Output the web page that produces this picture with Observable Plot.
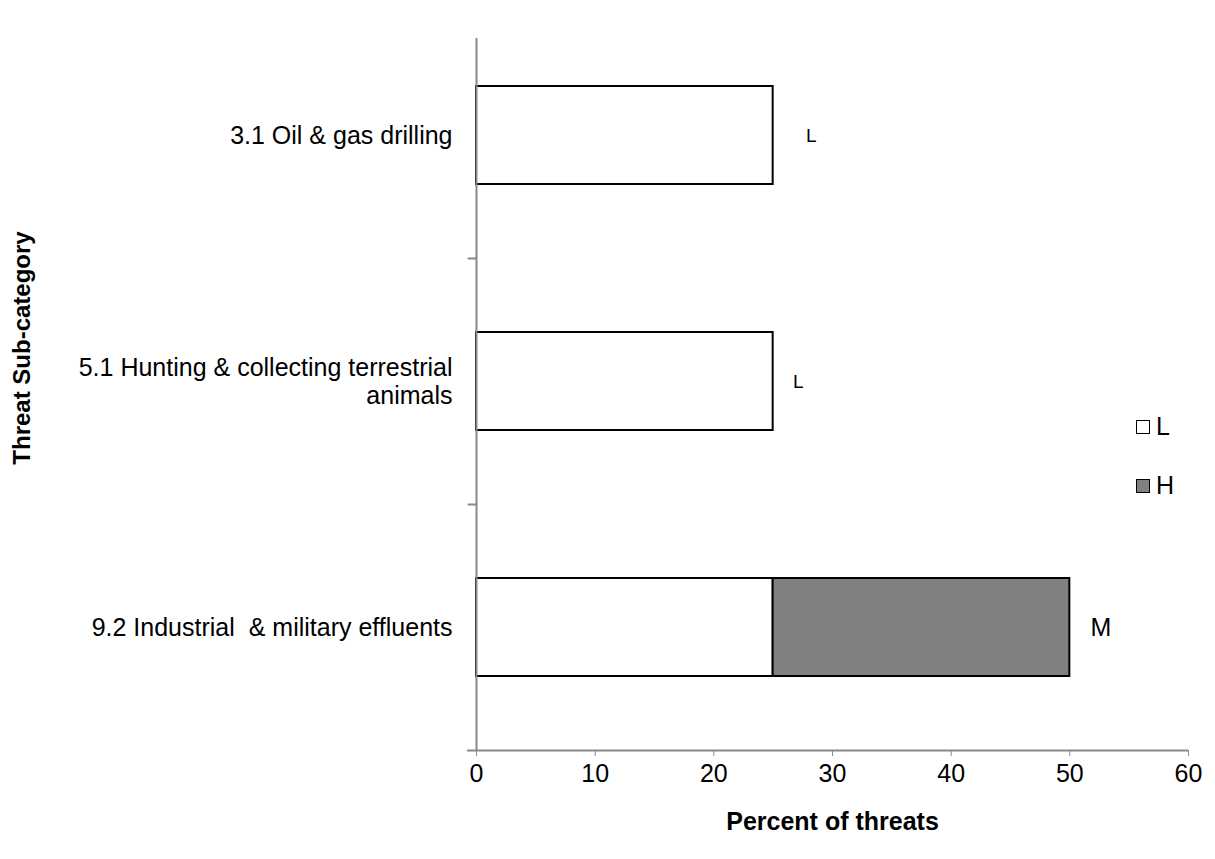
<!DOCTYPE html>
<html>
<head>
<meta charset="utf-8">
<script src="https://cdn.jsdelivr.net/npm/d3@7"></script>
<script src="https://cdn.jsdelivr.net/npm/@observablehq/plot@0.6"></script>
<style>
  html, body { margin: 0; padding: 0; background: #fff; }
  #wrap { position: relative; width: 1215px; height: 859px; font-family: "Liberation Sans", Arial, sans-serif; }
  .leg { position: absolute; display: flex; align-items: center; font-size: 25px; color: #000; line-height: 1; }
  .sw { width: 12px; height: 12px; border: 1.5px solid #000; margin-right: 6px; box-sizing: content-box; }
</style>
</head>
<body>
<div id="wrap"></div>
<script>
// ---- data ----
const categories = [
  "3.1 Oil & gas drilling",
  "5.1 Hunting & collecting terrestrial\nanimals",
  "9.2 Industrial  & military effluents"
];
const lowValues  = [25, 25, 25];   // L
const highValues = [0, 0, 25];     // H
const levels = ["L", "H"];
const levelColors = ["#ffffff", "#808080"];
const riskLabels = ["L", "L", "M"];
const xTicks = [0, 10, 20, 30, 40, 50, 60];

// table built from arrays
const rows = [];
categories.forEach((c, i) => {
  rows.push({cat: c, level: "L", value: lowValues[i]});
  rows.push({cat: c, level: "H", value: highValues[i]});
});
const totals = categories.map((c, i) => ({cat: c, total: lowValues[i] + highValues[i], label: riskLabels[i]}));

const labelStyle = [
  {dx: 38, fontSize: 19},
  {dx: 25, fontSize: 19},
  {dx: 31, fontSize: 25}
];

const chart = Plot.plot({
  width: 1215,
  height: 859,
  marginLeft: 476,
  marginRight: 27,
  marginTop: 11,
  marginBottom: 109,
  style: {fontFamily: "'Liberation Sans', Arial, sans-serif", fontSize: "25px", color: "#000", background: "transparent"},
  x: {domain: [0, 60], axis: null},
  y: {domain: categories, padding: 0, axis: null},
  color: {domain: levels, range: levelColors},
  marks: [
    // y category tick marks between categories
    Plot.ruleY(categories.slice(0, 2), {y: d => d, x1: -0.7, x2: 0, dy: 123, stroke: "#888", strokeWidth: 2}),
    // bars
    Plot.barX(rows, Plot.stackX({
      y: "cat", x: "value", fill: "level", order: levels,
      stroke: "#000", strokeWidth: 2, insetTop: 74, insetBottom: 74
    })),
    // y axis line
    Plot.ruleX([0], {stroke: "#888", strokeWidth: 2, insetTop: 27}),
    // x axis baseline
    Plot.ruleY([categories[2]], {y: d => d, x1: -0.75, x2: 60, dy: 123, stroke: "#888", strokeWidth: 2}),
    // x axis ticks & labels
    Plot.axisX({ticks: xTicks, tickSize: 6, tickPadding: 8, stroke: "#888", fill: "#000", fontSize: 25, label: null}),
    // category labels
    Plot.text(categories, {y: d => d, frameAnchor: "left", dx: -24, textAnchor: "end", fontSize: 25, lineHeight: 1.12, fill: "#000"}),
    // risk labels
    ...totals.map((t, i) => Plot.text([t], {x: "total", y: "cat", text: "label", dx: labelStyle[i].dx, fontSize: labelStyle[i].fontSize, fill: "#000"})),
    // axis titles
    Plot.text(["Percent of threats"], {frameAnchor: "bottom", textAnchor: "middle", lineAnchor: "middle", dy: 71, fontWeight: "bold", fontSize: 25, fill: "#000"}),
    Plot.text(["Threat Sub-category"], {frameAnchor: "left", textAnchor: "middle", lineAnchor: "middle", dx: -454, dy: -33, rotate: -90, fontWeight: "bold", fontSize: 24, fill: "#000"})
  ]
});

const wrap = document.getElementById("wrap");
wrap.appendChild(chart);

// legend
levels.forEach((lv, i) => {
  const d = document.createElement("div");
  d.className = "leg";
  d.style.left = "1136px";
  d.style.top = (i === 0 ? 414 : 473) + "px";
  d.innerHTML = `<span class="sw" style="background:${levelColors[i]}"></span><span>${lv}</span>`;
  wrap.appendChild(d);
});
</script>
</body>
</html>
